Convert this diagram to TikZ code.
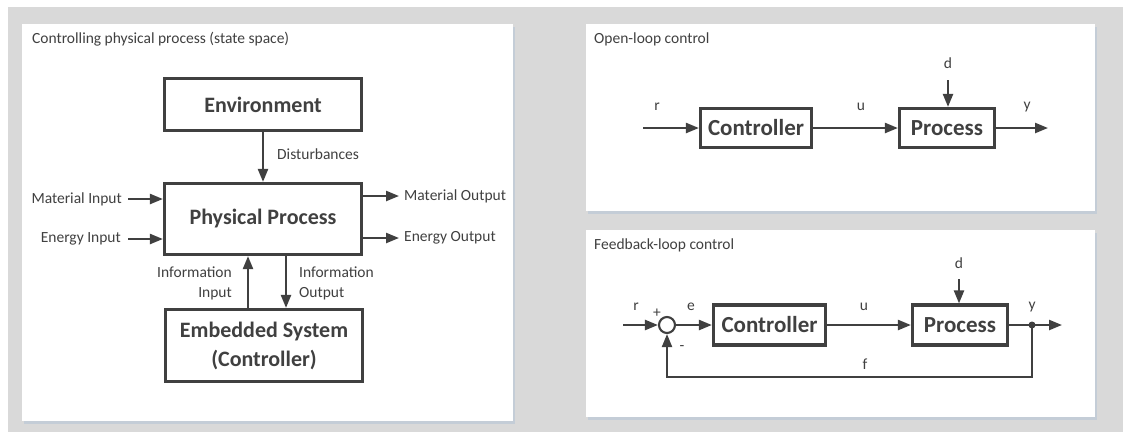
\documentclass[tikz,border=0pt]{standalone}
\usepackage{fontspec}
\setmainfont{Carlito}
\usetikzlibrary{arrows.meta}
\definecolor{ink}{HTML}{404040}
\definecolor{bggray}{HTML}{D9D9D9}
\definecolor{shadowc}{HTML}{C4CDD7}
\tikzset{
  panel/.style={fill=white, draw=none},
  panelshadow/.style={fill=shadowc, draw=none},
  blk/.style={draw=ink, line width=3.2pt, fill=white, inner sep=0pt,
    font=\bfseries\fontsize{22}{26}\selectfont, text=ink, align=center},
  sblk/.style={blk, font=\bfseries\fontsize{23}{26}\selectfont},
  lbl/.style={font=\fontsize{15.5}{20}\selectfont, text=ink, inner sep=0pt},
  flow/.style={draw=ink, line width=2.3pt, -{Triangle[length=13pt,width=10pt]}},
  wire/.style={draw=ink, line width=2.1pt},
  sumpt/.style={circle, draw=ink, line width=2.1pt, fill=white, minimum size=16pt, inner sep=0pt},
  tap/.style={circle, fill=ink, minimum size=7pt, inner sep=0pt},
}
\begin{document}
\begin{tikzpicture}[x=1pt, y=-1pt]
\useasboundingbox (0,0) rectangle (1123,432);
% backdrop
\fill[bggray] (8,7) rectangle (1123,432);
% panels with soft drop edge
\fill[panelshadow] (23.5,26.5) rectangle (514.5,423.5);
\fill[panel] (22,24) rectangle (513,421);
\fill[panelshadow] (587.5,26.5) rectangle (1096.5,213.5);
\fill[panel] (586,24) rectangle (1095,211);
\fill[panelshadow] (587.5,232.5) rectangle (1096.5,419.5);
\fill[panel] (586,230) rectangle (1095,417);

% ---------- state-space view ----------
\node[lbl, anchor=west] (t1) at (32,39) {Controlling physical process (state space)};
\node[blk, minimum width=197pt, minimum height=52pt] (env) at (263,104.5) {Environment};
\node[blk, minimum width=197pt, minimum height=71pt] (pp) at (263,219) {Physical Process};
\node[blk, minimum width=197pt, minimum height=72pt, font=\bfseries\fontsize{22}{29}\selectfont] (emb) at (264,345.5) {Embedded System\\(Controller)};

\draw[flow] (env.south) -- (pp.north);
\node[lbl, anchor=west] (dist) at (277,154) {Disturbances};

\node[lbl, anchor=east] (mi) at (122,199) {Material Input};
\node[lbl, anchor=east] (ei) at (121,239) {Energy Input};
\draw[flow] ([xshift=6pt]mi.east) -- (pp.west |- mi.east);
\draw[flow] ([xshift=7pt]ei.east) -- (pp.west |- ei.east);

\node[lbl, anchor=west] (mo) at (404,196) {Material Output};
\node[lbl, anchor=west] (eo) at (404,238) {Energy Output};
\draw[flow] (pp.east |- mo.west) -- ([xshift=-5pt]mo.west);
\draw[flow] (pp.east |- eo.west) -- ([xshift=-5pt]eo.west);

\draw[flow] ([xshift=-16pt]emb.north) -- ([xshift=-16pt]emb.north |- pp.south);
\draw[flow] ([xshift=23pt]pp.south) -- ([xshift=23pt]pp.south |- emb.north);
\node[lbl, anchor=east, align=right] (iin) at (232,283) {Information\\Input};
\node[lbl, anchor=west, align=left] (iout) at (299,283) {Information\\Output};

% ---------- open loop ----------
\node[lbl, anchor=west] (t2) at (594,39) {Open-loop control};
\node[sblk, minimum width=111pt, minimum height=39pt] (c1) at (756,128) {Controller};
\node[sblk, minimum width=95pt, minimum height=39pt] (p1) at (947,128) {Process};
\coordinate (r1) at (643,128);
\coordinate (y1) at (1048,128);
\coordinate (d1) at (948,80);
\draw[flow] (r1) -- (c1.west);
\draw[flow] (c1.east) -- (p1.west);
\draw[flow] (p1.east) -- (y1);
\draw[flow] (d1) -- (d1 |- p1.north);
\node[lbl] (r1l) at (657,107) {r};
\node[lbl] (u1l) at (861,107) {u};
\node[lbl] (y1l) at (1027,107) {y};
\node[lbl] (d1l) at (948,63) {d};

% ---------- feedback loop ----------
\node[lbl, anchor=west] (t3) at (594,245) {Feedback-loop control};
\node[sumpt] (sum) at (667,325) {};
\node[sblk, minimum width=112pt, minimum height=40pt] (c2) at (769.5,325) {Controller};
\node[sblk, minimum width=95pt, minimum height=40pt] (p2) at (960,325) {Process};
\coordinate (r2) at (623,325);
\coordinate (y2) at (1062,325);
\coordinate (d2) at (959,279);
\node[tap] (tp) at (1032,325) {};
\coordinate (fb) at (1032,377);
\draw[flow] (r2) -- (sum.west);
\draw[flow] (sum.east) -- (c2.west);
\draw[flow] (c2.east) -- (p2.west);
\draw[flow] (p2.east) -- (y2);
\draw[flow] (d2) -- (d2 |- p2.north);
\draw[wire, -{Triangle[length=13pt,width=10pt]}] (tp.center) -- (fb) -| (sum.south);
\node[lbl] (r2l) at (636,307) {r};
\node[lbl] (pl) at (657,313) {+};
\node[lbl] (el) at (691,307) {e};
\node[lbl] (ml) at (682,348) {-};
\node[lbl] (u2l) at (864,307) {u};
\node[lbl] (y2l) at (1032,307) {y};
\node[lbl] (fl) at (865,364) {f};
\node[lbl] (d2l) at (959,263) {d};
\end{tikzpicture}
\end{document}
